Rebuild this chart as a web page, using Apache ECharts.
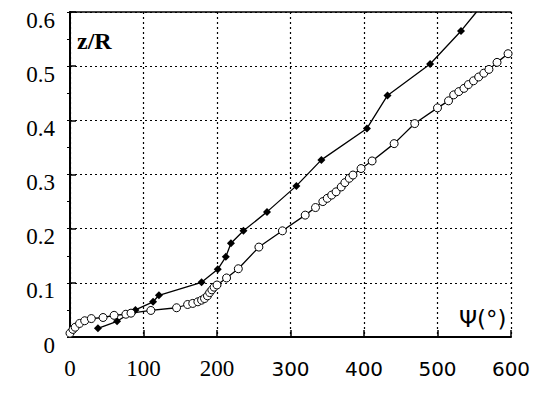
<!DOCTYPE html>
<html>
<head>
<meta charset="utf-8">
<script src="https://cdn.jsdelivr.net/npm/echarts@6/dist/echarts.min.js"></script>
<style>html,body{margin:0;padding:0;background:#fff;}#c{width:541px;height:394px;}</style>
</head>
<body>
<div id="c"></div>
<script>
// Filled-diamond series (psi in degrees, z/R)
var filledX = [38, 64, 89, 113, 121, 179, 201, 212, 219, 236, 268, 308, 342, 404, 432, 490, 532, 553];
var filledY = [0.016, 0.029, 0.050, 0.065, 0.077, 0.101, 0.125, 0.148, 0.173, 0.196, 0.231, 0.279, 0.327, 0.385, 0.446, 0.504, 0.565, 0.600];
// Open-circle series
var openX = [0, 4, 7, 13, 20, 29, 45, 60, 76, 83, 110, 145, 160, 167, 174, 179, 183, 187, 190, 193, 196, 200, 213, 229, 257, 289, 320, 334, 344, 350, 356, 362, 369, 374, 380, 385, 396, 411, 441, 469, 500, 515, 522, 529, 536, 542, 549, 556, 563, 570, 581, 596];
var openY = [0.007, 0.014, 0.018, 0.025, 0.030, 0.034, 0.036, 0.040, 0.042, 0.044, 0.049, 0.054, 0.060, 0.062, 0.065, 0.068, 0.071, 0.076, 0.082, 0.087, 0.092, 0.096, 0.109, 0.126, 0.166, 0.196, 0.225, 0.239, 0.250, 0.256, 0.262, 0.268, 0.277, 0.285, 0.293, 0.299, 0.311, 0.325, 0.357, 0.394, 0.423, 0.436, 0.447, 0.453, 0.459, 0.466, 0.473, 0.480, 0.487, 0.494, 0.507, 0.523];
var xTicks = [0, 100, 200, 300, 400, 500, 600];
var yTicks = [0, 0.1, 0.2, 0.3, 0.4, 0.5, 0.6];
var yTitle = 'z/R';
var xTitle = 'Ψ(°)';

var filledData = filledX.map(function (x, i) { return [x, filledY[i]]; });
var openData = openX.map(function (x, i) { return [x, openY[i]]; });
var lastFilled = filledData.length - 1;

var serifFont = 'Liberation Serif';
var sansFont = 'DejaVu Sans';
var xMin = xTicks[0], xMax = xTicks[xTicks.length - 1];
var yMin = yTicks[0], yMax = yTicks[yTicks.length - 1];
function dots() { return { color: '#000', type: [2, 3], width: 1.2 }; }

var chart = echarts.init(document.getElementById('c'), null, { renderer: 'svg' });
chart.setOption({
  animation: false,
  backgroundColor: '#fff',
  grid: { left: 70, right: 30, top: 12, bottom: 57 },
  xAxis: [
    {
      type: 'value', min: xMin, max: xMax, interval: 100, position: 'bottom',
      axisLine: { lineStyle: { color: '#000', width: 2 } },
      axisTick: { inside: true, length: 7, lineStyle: { color: '#000', width: 1.5 } },
      splitLine: { show: true, lineStyle: dots() },
      axisLabel: { margin: 20, fontFamily: serifFont, fontWeight: 'normal', fontSize: 23, color: '#000',
        formatter: function (v) { return v < 300 ? String(v) : ''; } }
    },
    {
      type: 'value', min: xMin, max: xMax, interval: 100, position: 'bottom',
      axisLine: { show: false }, axisTick: { show: false }, splitLine: { show: false },
      axisLabel: { margin: 22, fontFamily: sansFont, fontWeight: 'normal', fontSize: 20, color: '#000',
        formatter: function (v) { return v >= 300 ? String(v) : ''; } }
    },
    {
      type: 'value', min: xMin, max: xMax, interval: 100, position: 'top',
      axisLine: { lineStyle: { color: '#000', width: 1.5 } },
      axisTick: { show: false }, splitLine: { show: false }, axisLabel: { show: false }
    }
  ],
  yAxis: [
    {
      type: 'value', min: yMin, max: yMax, interval: 0.1, position: 'left',
      axisLine: { lineStyle: { color: '#000', width: 2 } },
      axisTick: { inside: true, length: 6, lineStyle: { color: '#000', width: 1.5 } },
      splitLine: { show: true, lineStyle: dots() },
      axisLabel: { margin: 15, fontFamily: serifFont, fontWeight: 'normal', fontSize: 23, color: '#000',
        verticalAlign: 'top', lineHeight: 16,
        formatter: function (v) { return v === 0 ? '0' : v.toFixed(1); } }
    },
    {
      type: 'value', min: yMin, max: yMax, interval: 0.05, position: 'right',
      axisLine: { lineStyle: { color: '#000', width: 1.5 } },
      axisTick: { inside: true, length: 3, lineStyle: { color: '#000', width: 1 } },
      splitLine: { show: false }, axisLabel: { show: false }
    }
  ],
  graphic: [
    { type: 'text', left: 77, top: 29, silent: true,
      style: { text: yTitle, fontFamily: serifFont, fontWeight: 'bold', fontSize: 24, fill: '#000' } },
    { type: 'text', left: 459, top: 307, silent: true,
      style: { text: xTitle, fontFamily: sansFont, fontWeight: 'normal', fontSize: 23, fill: '#000' } }
  ],
  series: [
    {
      type: 'line', xAxisIndex: 0, yAxisIndex: 0, data: filledData,
      symbol: function (val, params) { return params.dataIndex === lastFilled ? 'none' : 'diamond'; },
      symbolSize: 8,
      lineStyle: { color: '#000', width: 1.3 },
      itemStyle: { color: '#000' }
    },
    {
      type: 'line', xAxisIndex: 0, yAxisIndex: 0, data: openData, symbol: 'circle', symbolSize: 8,
      lineStyle: { color: '#000', width: 1.3 },
      itemStyle: { color: '#fff', borderColor: '#000', borderWidth: 1 }
    }
  ]
});
</script>
</body>
</html>
